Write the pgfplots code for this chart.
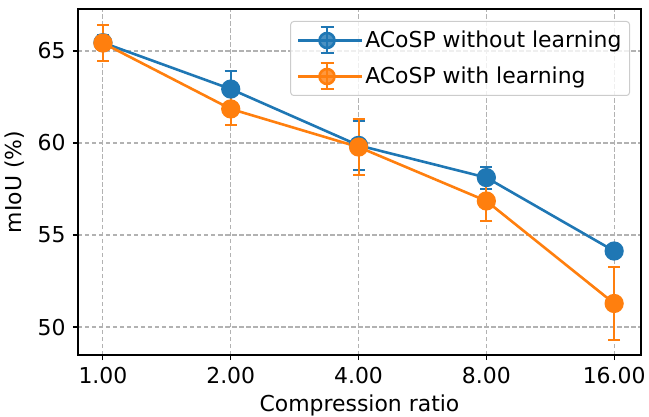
\documentclass[border=0pt]{standalone}
\usepackage{fontspec}
\setmainfont{DejaVu Sans}
\usepackage{pgfplots}
\pgfplotsset{compat=1.18}
\definecolor{tabblue}{HTML}{1F77B4}
\definecolor{taborange}{HTML}{FF7F0E}
\newcommand\errleg[1]{%
    \path (-5bp,0bp) -- (59bp,0bp);
    \draw[#1,line width=2.6bp] (0bp,0bp) -- (48bp,0bp);
    \draw[#1,line width=2bp] (24bp,-13bp) -- (24bp,13bp);
    \draw[#1,line width=2bp] (17.5bp,-13bp) -- (30.5bp,-13bp);
    \draw[#1,line width=2bp] (17.5bp,13bp) -- (30.5bp,13bp);
    \fill[#1] (24bp,0bp) circle (7.5bp);
}
\begin{document}
\fontsize{22}{26}\selectfont
\begin{tikzpicture}
\begin{axis}[
  name=ax,
  at={(0,0)}, anchor=south west,
  scale only axis, width=563bp, height=346bp,
  xmin=-0.195, xmax=4.21, ymin=48.48, ymax=67.28,
  xtick={0,1,2,3,4},
  xticklabels={1.00,2.00,4.00,8.00,16.00},
  ytick={50,55,60,65},
  tick align=outside, tick pos=lower,
  major tick length=5bp,
  tick style={black, line width=1.1bp},
  axis line style={line width=1.1bp},
  grid=major,
  grid style={dash pattern=on 4.5bp off 2.5bp, gray!60, line width=1.1bp},
  xlabel={Compression ratio}, ylabel={mIoU (\%)},
  xlabel style={yshift=4bp},
  ylabel style={yshift=-2bp},
  ticklabel style={font=\fontsize{22}{26}\selectfont},
  label style={font=\fontsize{22}{26}\selectfont},
  /pgf/number format/assume math mode=true,
  legend style={at={(1,1)}, anchor=north east, xshift=-11bp, yshift=-12bp,
    draw=gray!40, line width=1bp, rounded corners=3bp, fill=white, fill opacity=0.8, text opacity=1,
    font=\fontsize{22}{26}\selectfont, inner xsep=6bp, inner ysep=5bp,
    row sep=8bp},
  legend cell align=left,
  error bars/error bar style={line width=2bp},
  error bars/error mark options={line width=2bp, mark size=6bp, rotate=90},
]
\addplot[tabblue, line width=2.6bp, mark=*, mark size=8.3bp, mark options={solid, fill=tabblue, draw=tabblue},
  legend image code/.code={\errleg{tabblue}},
  error bars/.cd, y dir=both, y explicit]
  table[x=x, y=y, y error=e] {
  x y e
  0 65.45 0.4
  1 62.93 1.0
  2 59.87 1.35
  3 58.12 0.6
  4 54.13 0.3
  };
\addlegendentry{ACoSP without learning}
\addplot[taborange, line width=2.6bp, mark=*, mark size=8.3bp, mark options={solid, fill=taborange, draw=taborange},
  legend image code/.code={\errleg{taborange}},
  error bars/.cd, y dir=both, y explicit]
  table[x=x, y=y, y error=e] {
  x y e
  0 65.43 1.0
  1 61.85 0.85
  2 59.78 1.5
  3 56.85 1.1
  4 51.28 2.0
  };
\addlegendentry{ACoSP with learning}
\end{axis}
\pgfresetboundingbox
\path[use as bounding box] ([xshift=-78bp,yshift=-62bp]ax.south west) rectangle ([xshift=8bp,yshift=9bp]ax.north east);
\end{tikzpicture}
\end{document}
